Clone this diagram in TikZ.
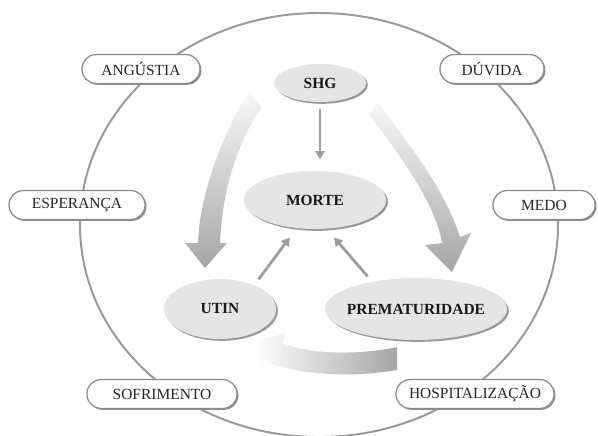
\documentclass[tikz,border=0pt]{standalone}
\usepackage{fontspec}
\setmainfont{Liberation Serif}
\usetikzlibrary{shapes.geometric,shadows,arrows.meta}

\begin{document}
\begin{tikzpicture}[x=0.025cm,y=-0.025cm,
    caixa/.style={draw=black!45, line width=0.9pt, fill=white, rounded corners=10pt,
        minimum height=0.72cm, font=\fontsize{11}{13}\selectfont, text=black!85,
        drop shadow={shadow xshift=1pt, shadow yshift=-1pt, fill=black!45, opacity=1}},
    bolha/.style={ellipse, fill=black!10, inner xsep=-5pt, inner ysep=0pt,
        font=\fontsize{11}{13}\selectfont\bfseries, text=black!90,
        drop shadow={shadow xshift=1.3pt, shadow yshift=-1.3pt, fill=black!40, opacity=1}},
    seta/.style={draw=black!38, line width=2pt, -{Triangle[length=6pt,width=6.5pt]},
        shorten <=5pt, shorten >=8pt}]
    \useasboundingbox (0,0) rectangle (598,435);
    % Outer ring
    \draw[black!40, line width=1.4pt] (319,225) ellipse [x radius=239, y radius=212];
    % Big shaded arrows
    \shade[top color=black!3, bottom color=black!35]
        (248,93) .. controls (225,130) and (200,190) .. (198,243)
        -- (185,243) -- (205,268) -- (227,243) -- (220,243)
        .. controls (222,195) and (235,145) .. (262,107) -- cycle;
    \shade[top color=black!3, bottom color=black!35]
        (377,102) .. controls (410,145) and (445,190) .. (460,237)
        -- (471,233) -- (452,272) -- (425,245) -- (442,243)
        .. controls (435,200) and (395,150) .. (370,115) -- cycle;
    \shade[left color=white, right color=black!35]
        (255,340) -- (285,334) -- (282,343)
        .. controls (310,355) and (360,355) .. (397,347)
        -- (397,370) .. controls (350,378) and (300,375) .. (265,362)
        -- (260,370) -- cycle;
    % Feelings
    \node[caixa, minimum width=2.95cm] (angustia) at (141,69) {ANGÚSTIA};
    \node[caixa, minimum width=2.6cm] (duvida) at (492,69) {DÚVIDA};
    \node[caixa, minimum width=3.4cm] (esperanca) at (77,205) {ESPERANÇA};
    \node[caixa, minimum width=2.55cm] (medo) at (544,205) {MEDO};
    \node[caixa, minimum width=3.75cm] (sofrimento) at (162,394) {SOFRIMENTO};
    \node[caixa, minimum width=3.95cm] (hospital) at (475,394) {HOSPITALIZAÇÃO};
    % Central cycle
    \node[bolha, minimum width=2.3cm, minimum height=0.95cm] (shg) at (320,83) {SHG};
    \node[bolha, minimum width=3.55cm, minimum height=1.45cm] (morte) at (315,200) {MORTE};
    \node[bolha, minimum width=2.8cm, minimum height=1.5cm] (utin) at (220,309) {UTIN};
    \node[bolha, minimum width=4.55cm, minimum height=1.55cm] (prem) at (416,309) {PREMATURIDADE};
    % Small arrows to MORTE
    \draw[seta] (shg.south) -- (shg.south |- morte.north);
    \draw[seta] (utin.35) -- (morte.237);
    \draw[seta] (prem.148) -- (morte.292);
\end{tikzpicture}
\end{document}
